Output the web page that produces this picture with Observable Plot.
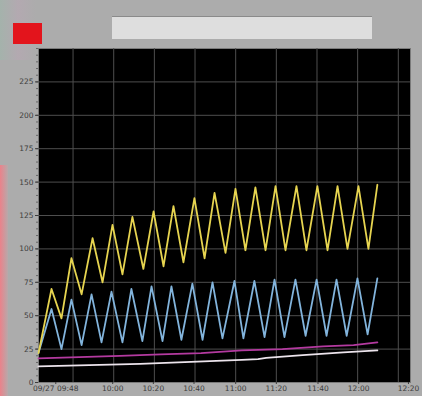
<!DOCTYPE html>
<html><head><meta charset="utf-8">
<script src="https://cdn.jsdelivr.net/npm/d3@7"></script>
<script src="https://cdn.jsdelivr.net/npm/@observablehq/plot@0.6"></script>
<style>
html,body{margin:0;padding:0;width:422px;height:396px;overflow:hidden;background:#acacac;font-family:"DejaVu Sans",sans-serif;}
#wrap{position:relative;width:422px;height:396px;}
#icon{position:absolute;left:13px;top:23px;width:29px;height:21px;background:#e3141c;}
#title{position:absolute;left:112px;top:16px;width:260px;height:22px;background:#dedede;border-top:1px solid #8a8a8a;}
#tint{position:absolute;left:0;top:0;width:36px;height:60px;background:linear-gradient(90deg,rgba(150,190,170,0.35),rgba(200,160,190,0.25),rgba(172,172,172,0));}
#edge{position:absolute;left:0;top:165px;width:8px;height:231px;background:linear-gradient(90deg,rgba(250,120,130,0.8),rgba(250,150,160,0.15));}
#chart{position:absolute;left:0;top:40px;}
</style></head>
<body><div id="wrap"><div id="tint"></div><div id="edge"></div><div id="icon"></div><div id="title"></div><div id="chart"></div></div>
<script>
// Time in minutes from chart start; values in °C
const yellowT = [0, 6.4, 11.3, 16.2, 21.2, 26.6, 31.5, 36.4, 41.3, 46.2, 51.6, 56.6, 61.5, 66.4, 71.3, 76.7, 81.7, 86.6, 92.0, 96.9, 101.8, 106.7, 111.7, 116.6, 121.5, 126.9, 131.8, 137.2, 142.2, 147.1, 152.0, 157.4, 162.3, 166.7];
const yellowV = [22, 70, 48, 93, 66, 108, 75, 118, 81, 124, 85, 128, 87, 132, 90, 138, 93, 142, 97, 145, 99, 146, 99, 147, 99, 147, 99, 147, 99, 147, 100, 147, 100, 148];
const blueT = [0, 6.4, 11.3, 16.2, 21.2, 26.1, 31.0, 35.9, 41.3, 45.7, 51.1, 55.6, 61.0, 65.4, 70.3, 75.7, 80.7, 85.6, 90.5, 96.4, 100.8, 106.2, 111.2, 116.1, 121.0, 126.4, 131.4, 136.8, 141.7, 146.6, 151.6, 156.9, 161.9, 166.7];
const blueV = [22, 55, 25, 62, 28, 66, 30, 68, 30, 70, 31, 72, 31, 72, 32, 74, 32, 75, 33, 76, 33, 76, 34, 77, 34, 77, 35, 77, 35, 77, 35, 78, 36, 78];
const magentaT = [0, 20, 40, 60, 80, 100, 120, 140, 155, 166.7];
const magentaV = [18, 19, 20, 21, 22, 24, 25, 27, 28, 30];
const whiteT = [0, 25, 50, 75, 100, 108, 112, 130, 150, 166.7];
const whiteV = [12, 13, 14, 15.5, 17, 17.5, 18.5, 20.5, 22.5, 24];
const yTicks = [0, 25, 50, 75, 100, 125, 150, 175, 200, 225];
const gridXT = [17, 37, 57, 77, 97, 117, 137, 157, 177];
const xLabelT = [8.5, 36.5, 56.5, 76.5, 97, 117, 137.5, 157.5, 182];
const xLabels = ["09/27 09:48", "10:00", "10:20", "10:40", "11:00", "11:20", "11:40", "12:00", "12:20"];

const mk = (T, V, s) => T.map((t, i) => ({t, v: V[i], s}));
const rows = [
  ...mk(whiteT, whiteV, "white"),
  ...mk(magentaT, magentaV, "magenta"),
  ...mk(blueT, blueV, "blue"),
  ...mk(yellowT, yellowV, "yellow")
];
const colors = {white: "#ece4ec", magenta: "#b43aa0", blue: "#82b4dc", yellow: "#e6d450"};

const chart = Plot.plot({
  width: 422, height: 356,
  marginLeft: 38, marginRight: 12, marginTop: 8, marginBottom: 14,
  style: {background: "transparent", color: "#3c3c3c", fontSize: "7.5px", fontFamily: "DejaVu Sans, sans-serif"},
  x: {domain: [0, 183], axis: null},
  y: {domain: [0, 250], axis: null},
  marks: [
    Plot.frame({fill: "black", stroke: "#7a7a7a"}),
    Plot.gridX(gridXT, {stroke: "#4e4e4e", strokeOpacity: 1}),
    Plot.gridY(d3.range(25, 250, 25), {stroke: "#4e4e4e", strokeOpacity: 1}),
    ...["white", "magenta", "blue", "yellow"].map(s =>
      Plot.line(rows.filter(d => d.s === s), {x: "t", y: "v", stroke: colors[s], strokeWidth: 1.8})
    ),
    Plot.axisY(d3.range(0, 251, 5), {tickSize: 2, text: null, stroke: "#666", label: null}),
    Plot.axisY(yTicks, {tickSize: 3, tickPadding: 2, fontSize: 7.5, label: null}),
    Plot.axisX(xLabelT, {tickSize: 2, tickPadding: 1, fontSize: 7.5, label: null, tickFormat: (d, i) => xLabels[i]})
  ]
});
document.getElementById("chart").appendChild(chart);
</script>
</body></html>
